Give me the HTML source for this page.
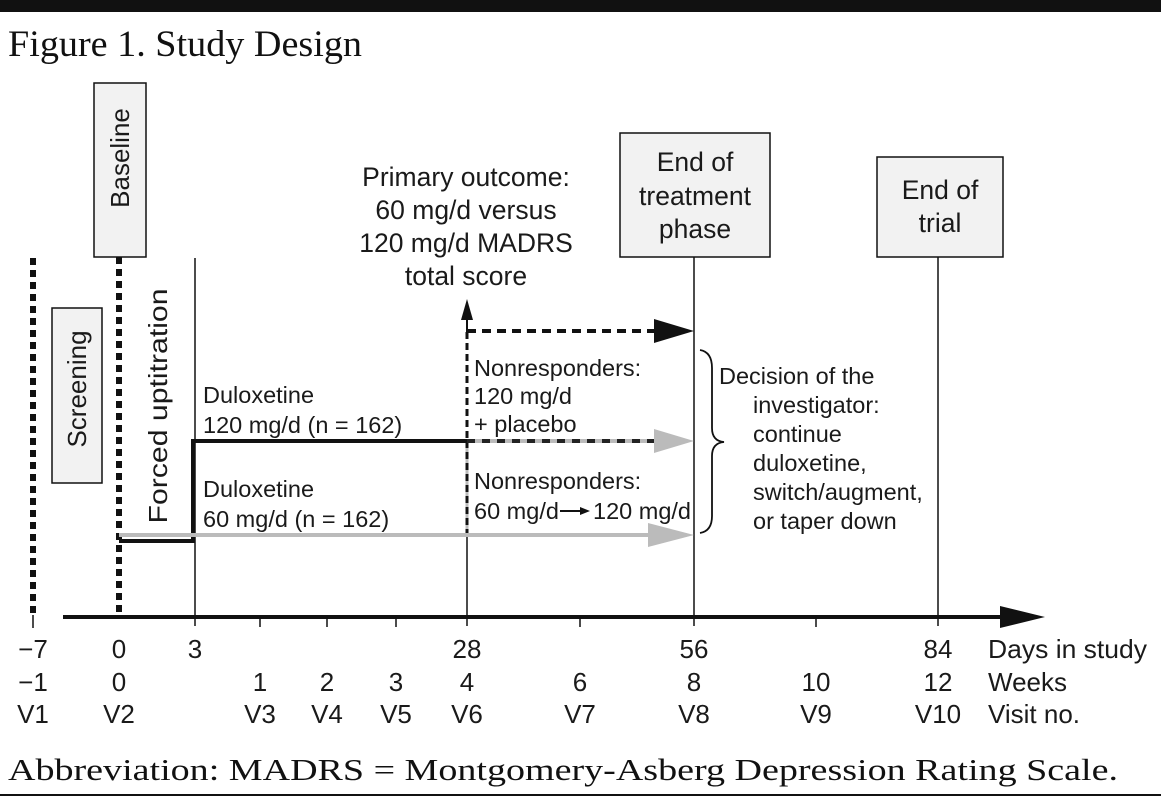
<!DOCTYPE html>
<html><head><meta charset="utf-8"><style>
body{margin:0;background:#fff;width:1161px;height:799px;overflow:hidden}
svg{display:block}
.s{font-family:"Liberation Sans",sans-serif;font-size:23.5px;fill:#1a1a1a}
.a{font-family:"Liberation Sans",sans-serif;font-size:26px;fill:#1a1a1a}
.t{font-family:"Liberation Sans",sans-serif;font-size:26.5px;fill:#1a1a1a}
.r{font-family:"Liberation Serif",serif;fill:#111}
</style></head><body>
<svg width="1161" height="799" viewBox="0 0 1161 799">
<rect x="0" y="0" width="1161" height="12" fill="#111"/>
<text x="8" y="56" class="r" font-size="37" textLength="354" lengthAdjust="spacingAndGlyphs">Figure 1. Study Design</text>

<line x1="33" y1="258" x2="33" y2="615" stroke="#111" stroke-width="6" stroke-dasharray="7,5"/>
<line x1="33" y1="615" x2="33" y2="628" stroke="#111" stroke-width="1.5"/>
<line x1="119" y1="257" x2="119" y2="616" stroke="#111" stroke-width="6" stroke-dasharray="7,5"/>
<line x1="195" y1="258" x2="195" y2="626" stroke="#111" stroke-width="1.5"/>
<line x1="467" y1="315" x2="467" y2="332" stroke="#111" stroke-width="2"/>
<line x1="467" y1="332" x2="467" y2="441" stroke="#111" stroke-width="3" stroke-dasharray="7,4"/>
<line x1="467" y1="441" x2="467" y2="535" stroke="#bbb" stroke-width="3"/>
<line x1="467" y1="441" x2="467" y2="535" stroke="#111" stroke-width="3" stroke-dasharray="7,4"/>
<line x1="467" y1="535" x2="467" y2="626" stroke="#111" stroke-width="1.5"/>
<polygon points="461,320 473,320 467,299" fill="#111"/>
<line x1="694" y1="257" x2="694" y2="626" stroke="#111" stroke-width="1.5"/>
<line x1="938" y1="257" x2="938" y2="626" stroke="#111" stroke-width="1.5"/>

<rect x="94" y="83" width="52" height="174" fill="#f2f2f2" stroke="#111" stroke-width="1.5"/>
<text class="a" transform="translate(129,158) rotate(-90)" text-anchor="middle">Baseline</text>
<rect x="52" y="308" width="50" height="175" fill="#f2f2f2" stroke="#111" stroke-width="1.5"/>
<text class="a" transform="translate(86,389) rotate(-90)" text-anchor="middle">Screening</text>
<text class="a" transform="translate(167,406) rotate(-90)" text-anchor="middle" textLength="235" lengthAdjust="spacingAndGlyphs">Forced uptitration</text>
<rect x="620" y="133" width="150" height="124" fill="#f2f2f2" stroke="#111" stroke-width="1.5"/>
<text class="t" text-anchor="middle"><tspan x="695" y="171">End of</tspan><tspan x="695" y="205">treatment</tspan><tspan x="695" y="238">phase</tspan></text>
<rect x="877" y="157" width="126" height="100" fill="#f2f2f2" stroke="#111" stroke-width="1.5"/>
<text class="t" text-anchor="middle"><tspan x="940" y="199">End of</tspan><tspan x="940" y="232">trial</tspan></text>

<text class="t" text-anchor="middle"><tspan x="466" y="186">Primary outcome:</tspan><tspan x="466" y="219">60 mg/d versus</tspan><tspan x="466" y="252">120 mg/d MADRS</tspan><tspan x="466" y="285">total score</tspan></text>

<line x1="467" y1="331" x2="654" y2="331" stroke="#111" stroke-width="4" stroke-dasharray="9,6"/>
<polygon points="654,319 694,331 654,343" fill="#111"/>
<polyline points="119,541 193,541 193,441 467,441" fill="none" stroke="#111" stroke-width="4"/>
<line x1="467" y1="441" x2="654" y2="441" stroke="#bbb" stroke-width="4"/>
<line x1="467" y1="441" x2="654" y2="441" stroke="#222" stroke-width="4" stroke-dasharray="8,7"/>
<polygon points="654,429 694,441 654,453" fill="#bbb"/>
<line x1="119" y1="535" x2="650" y2="535" stroke="#bbb" stroke-width="4"/>
<polygon points="648,523 694,535 648,547" fill="#bbb"/>

<text class="s"><tspan x="203" y="403">Duloxetine</tspan><tspan x="203" y="433">120 mg/d (n = 162)</tspan></text>
<text class="s"><tspan x="203" y="497">Duloxetine</tspan><tspan x="203" y="527">60 mg/d (n = 162)</tspan></text>
<text class="s"><tspan x="474" y="376">Nonresponders:</tspan><tspan x="474" y="404">120 mg/d</tspan><tspan x="474" y="432">+ placebo</tspan></text>
<text class="s"><tspan x="474" y="489">Nonresponders:</tspan><tspan x="474" y="519">60 mg/d</tspan><tspan x="593" y="519">120 mg/d</tspan></text>
<line x1="560" y1="511" x2="582" y2="511" stroke="#111" stroke-width="2"/>
<polygon points="580,507 590,511 580,515" fill="#111"/>

<path d="M700,350 Q712,352 712,368 L712,428 Q712,441 724,442 Q712,443 712,456 L712,516 Q712,531 700,533" fill="none" stroke="#111" stroke-width="1.8"/>
<text class="s"><tspan x="719" y="384">Decision of the</tspan><tspan x="753" y="413">investigator:</tspan><tspan x="753" y="442">continue</tspan><tspan x="753" y="471">duloxetine,</tspan><tspan x="753" y="500">switch/augment,</tspan><tspan x="753" y="529">or taper down</tspan></text>

<line x1="63" y1="617" x2="1005" y2="617" stroke="#111" stroke-width="4"/>
<polygon points="1000,606 1045,617 1000,628" fill="#111"/>
<g stroke="#111" stroke-width="1.5">
<line x1="260" y1="617" x2="260" y2="627"/><line x1="327" y1="617" x2="327" y2="627"/><line x1="396" y1="617" x2="396" y2="627"/><line x1="580" y1="617" x2="580" y2="627"/><line x1="816" y1="617" x2="816" y2="627"/>
</g>
<g text-anchor="middle">
<text x="33" y="658" class="a">−7</text><text x="119" y="658" class="a">0</text><text x="195" y="658" class="a">3</text><text x="467" y="658" class="a">28</text><text x="694" y="658" class="a">56</text><text x="938" y="658" class="a">84</text>
</g>
<text x="988" y="658" class="a" textLength="159" lengthAdjust="spacingAndGlyphs">Days in study</text>
<g text-anchor="middle">
<text x="33" y="691" class="a">−1</text><text x="119" y="691" class="a">0</text><text x="260" y="691" class="a">1</text><text x="327" y="691" class="a">2</text><text x="396" y="691" class="a">3</text><text x="467" y="691" class="a">4</text><text x="580" y="691" class="a">6</text><text x="694" y="691" class="a">8</text><text x="816" y="691" class="a">10</text><text x="938" y="691" class="a">12</text>
</g>
<text x="988" y="691" class="a">Weeks</text>
<g text-anchor="middle">
<text x="33" y="723" class="a">V1</text><text x="119" y="723" class="a">V2</text><text x="260" y="723" class="a">V3</text><text x="327" y="723" class="a">V4</text><text x="396" y="723" class="a">V5</text><text x="467" y="723" class="a">V6</text><text x="580" y="723" class="a">V7</text><text x="694" y="723" class="a">V8</text><text x="816" y="723" class="a">V9</text><text x="938" y="723" class="a">V10</text>
</g>
<text x="988" y="723" class="a">Visit no.</text>

<text x="8" y="780" class="r" font-size="31" textLength="1110" lengthAdjust="spacingAndGlyphs">Abbreviation: MADRS = Montgomery-Asberg Depression Rating Scale.</text>
<line x1="0" y1="795" x2="1161" y2="795" stroke="#111" stroke-width="2"/>
</svg>
</body></html>
